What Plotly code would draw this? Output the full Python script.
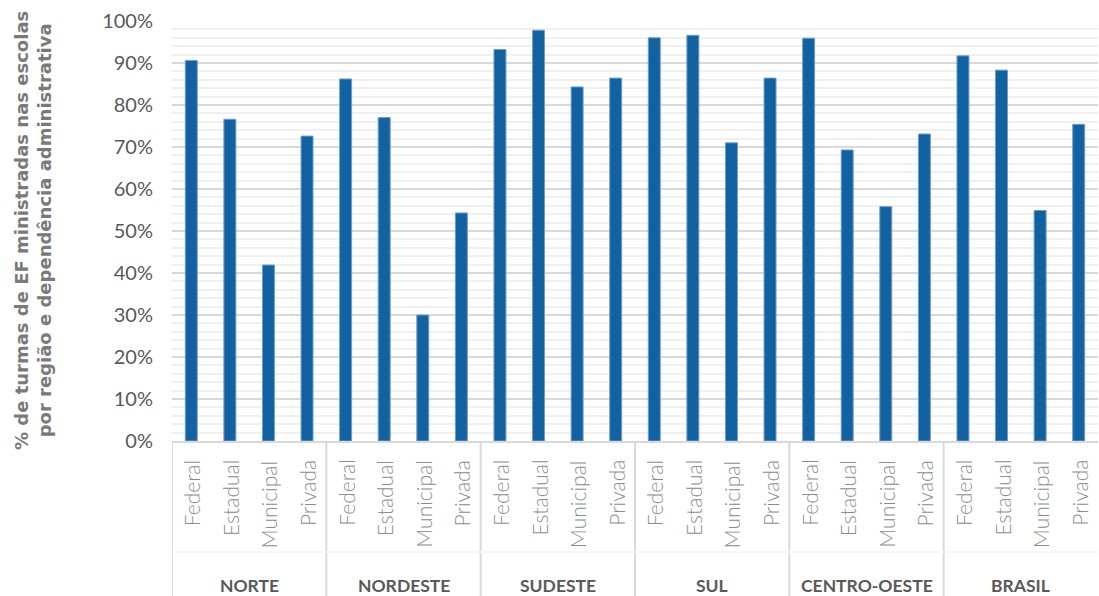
import plotly.graph_objects as go

# Regions and administrative dependency types
regioes = ["NORTE", "NORDESTE", "SUDESTE", "SUL", "CENTRO-OESTE", "BRASIL"]
dependencias = ["Federal", "Estadual", "Municipal", "Privada"]

# Share of EF classes taught in schools, per region (Federal, Estadual, Municipal, Privada)
norte = [0.906, 0.766, 0.419, 0.726]
nordeste = [0.862, 0.770, 0.300, 0.543]
sudeste = [0.932, 0.978, 0.843, 0.864]
sul = [0.960, 0.966, 0.710, 0.864]
centro_oeste = [0.959, 0.693, 0.558, 0.731]
brasil = [0.917, 0.883, 0.549, 0.754]

valores = [norte, nordeste, sudeste, sul, centro_oeste, brasil]

W, H = 1099, 596
M_L, M_R, M_T, M_B = 172, 1, 21, 155
PLOT_H = H - M_T - M_B

def py(px_below):
    """Paper y coordinate for a distance (px) below the plot's bottom edge."""
    return -px_below / PLOT_H

n_dep = len(dependencias)
xs, ys = [], []
for g, serie in enumerate(valores):
    for j, v in enumerate(serie):
        xs.append(g * n_dep + j)
        ys.append(v)

fig = go.Figure(
    go.Bar(
        x=xs,
        y=ys,
        marker=dict(color="#1261a0", line=dict(color="#6f9dca", width=1)),
        width=0.31,
        hoverinfo="y",
    )
)

annotations = []
shapes = []

# Inner category labels (rotated)
for g in range(len(regioes)):
    for j, dep in enumerate(dependencias):
        annotations.append(dict(
            x=g * n_dep + j, xref="x",
            y=py(17), yref="paper",
            text=dep, textangle=-90,
            xanchor="center", yanchor="top",
            showarrow=False,
            font=dict(family="Lato", size=21, color="#8c8c8c", weight=300),
        ))
    # Region labels
    annotations.append(dict(
        x=g * n_dep + (n_dep - 1) / 2, xref="x",
        y=py(144), yref="paper",
        text="<b>%s</b>" % regioes[g],
        xanchor="center", yanchor="middle",
        showarrow=False,
        font=dict(family="Lato", size=17.5, color="#595959"),
    ))
    # Group dividers
    shapes.append(dict(
        type="line", xref="x", yref="paper",
        x0=g * n_dep - 0.5, x1=g * n_dep - 0.5,
        y0=0, y1=py(M_B),
        line=dict(color="#d9d9d9", width=2),
    ))

# Faint separator between the two label levels
shapes.append(dict(
    type="line", xref="paper", yref="paper",
    x0=0, x1=1, y0=py(111), y1=py(111),
    line=dict(color="#f4f4f4", width=1.5),
))

# Y axis title (two lines)
annotations.append(dict(
    x=(33 - M_L) / (W - M_L - M_R), xref="paper",
    y=0.5, yref="paper",
    text="<b>% de turmas de EF ministradas nas escolas<br>por região e dependência administrativa</b>",
    textangle=-90,
    xanchor="center", yanchor="middle",
    showarrow=False,
    font=dict(family="DejaVu Sans", size=18, color="#7a7a7a"),
))

fig.update_layout(
    width=W, height=H,
    margin=dict(l=M_L, r=M_R, t=M_T, b=M_B),
    paper_bgcolor="white",
    plot_bgcolor="white",
    showlegend=False,
    bargap=0.69,
    annotations=annotations,
    shapes=shapes,
    xaxis=dict(
        range=[-0.5, len(xs) - 0.5],
        showticklabels=False,
        showgrid=False,
        zeroline=False,
        showline=True,
        linecolor="#d9d9d9",
        linewidth=2,
        ticks="",
    ),
    yaxis=dict(
        range=[0, 1.0],
        dtick=0.1,
        tickformat=".0%",
        showgrid=True,
        gridcolor="#d9d9d9",
        gridwidth=2,
        zeroline=False,
        showline=False,
        ticks="",
        ticklabelstandoff=18,
        tickfont=dict(family="Lato", size=20, color="#595959"),
        minor=dict(dtick=0.02, showgrid=True, gridcolor="#f0f0f0", gridwidth=2),
    ),
)

fig.write_html("out.html")
